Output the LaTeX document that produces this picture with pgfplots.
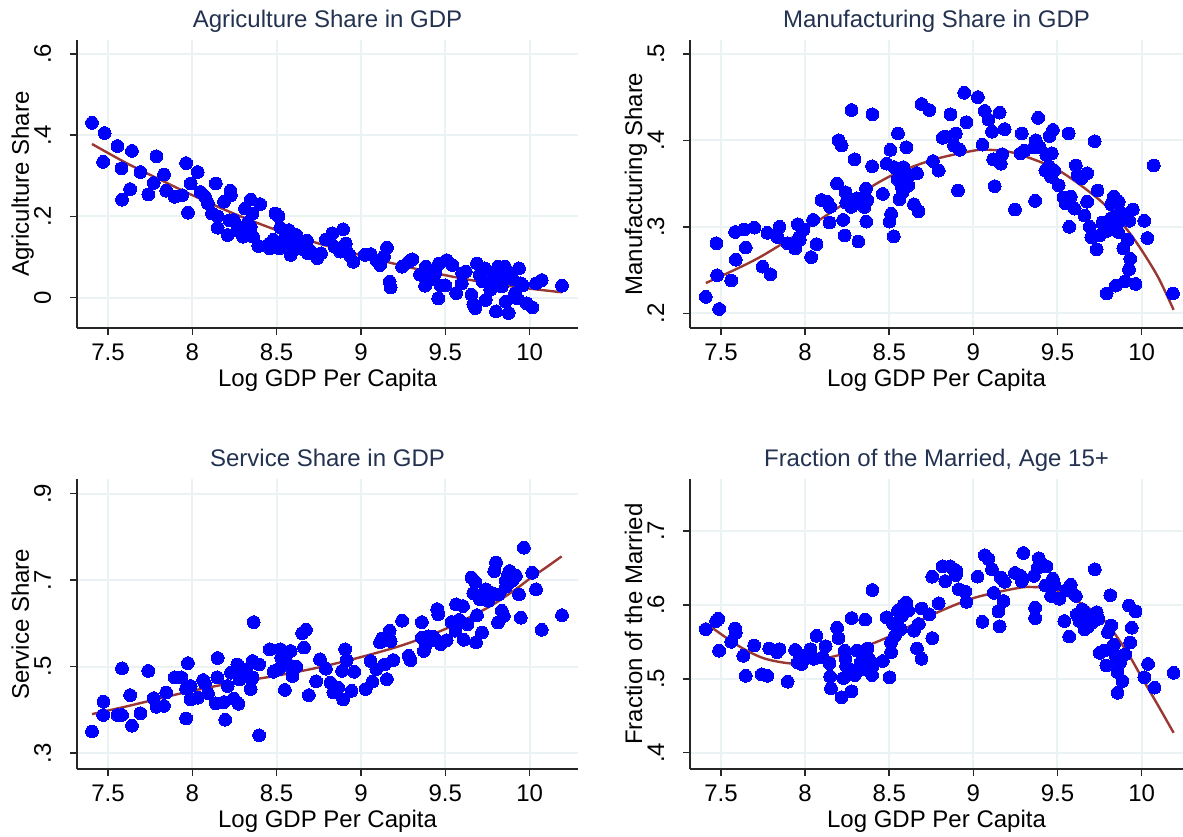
\documentclass[border=0pt]{standalone}
\usepackage{fontspec}
\setmainfont{Liberation Sans}
\usepackage{pgfplots}
\usepackage{pgfplotstable}
\pgfplotsset{compat=1.18}
\definecolor{gridc}{RGB}{234,242,243}
\definecolor{fitc}{RGB}{155,55,50}
\definecolor{titc}{RGB}{35,50,80}
\definecolor{mk}{RGB}{0,0,255}

\pgfplotstableread{
x y
7.405 0.430
7.48 0.405
7.556 0.373
7.642 0.361
7.471 0.334
7.58 0.318
7.631 0.267
7.583 0.241
7.692 0.309
7.787 0.348
7.771 0.282
7.739 0.254
7.832 0.303
7.845 0.263
7.895 0.248
7.963 0.331
7.99 0.281
7.974 0.209
7.94 0.252
8.032 0.309
8.048 0.260
8.075 0.248
8.093 0.232
8.139 0.281
8.116 0.207
8.15 0.200
8.15 0.172
8.188 0.236
8.226 0.263
8.229 0.252
8.21 0.154
8.245 0.191
8.267 0.166
8.312 0.219
8.346 0.241
8.357 0.207
8.402 0.230
8.346 0.174
8.30 0.150
8.391 0.127
8.32 0.158
8.493 0.207
8.511 0.200
8.481 0.142
8.522 0.172
8.572 0.166
8.549 0.125
8.583 0.105
8.617 0.154
8.64 0.125
8.459 0.121
8.515 0.121
8.662 0.133
8.685 0.109
8.741 0.097
8.763 0.109
8.792 0.143
8.831 0.158
8.894 0.168
8.843 0.125
8.877 0.113
8.91 0.133
8.932 0.105
8.955 0.088
9.023 0.105
9.057 0.107
9.091 0.092
9.113 0.080
9.154 0.123
9.136 0.101
9.17 0.039
9.176 0.025
9.244 0.076
9.282 0.088
9.305 0.094
9.35 0.056
9.384 0.076
9.38 0.029
9.407 0.043
9.44 0.060
9.463 0.084
9.508 0.092
9.458 -0.002
9.474 0.029
9.542 0.080
9.564 0.011
9.598 0.035
9.621 0.064
9.655 0.007
9.666 -0.016
9.677 -0.026
9.688 0.084
9.704 0.056
9.733 0.072
9.74 -0.006
9.767 0.019
9.79 0.043
9.801 -0.034
9.813 0.076
9.835 0.027
9.853 0.076
9.858 -0.010
9.876 -0.038
9.892 0.060
9.914 0.011
9.937 0.072
9.926 -0.002
9.948 0.035
9.982 -0.014
10.016 -0.024
10.038 0.035
10.072 0.043
10.192 0.029
8.55 0.145
8.60 0.130
8.65 0.120
8.70 0.115
8.45 0.130
8.68 0.140
9.72 0.040
9.78 0.060
9.84 0.050
9.90 0.045
9.96 0.030
9.60 0.060
9.50 0.030
9.42 0.065
8.27 0.175
8.33 0.185
8.36 0.150
8.22 0.190
8.30 0.160
}\agri

\pgfplotstableread{
x y
7.405 0.378
7.60 0.333
7.75 0.302
8.00 0.252
8.25 0.206
8.50 0.166
8.75 0.133
9.00 0.104
9.25 0.078
9.50 0.055
9.75 0.036
10.00 0.022
10.19 0.013
}\agrifit

\pgfplotstableread{
x y
7.41 0.219
7.489 0.205
7.477 0.244
7.473 0.281
7.561 0.238
7.588 0.262
7.584 0.294
7.638 0.297
7.647 0.276
7.699 0.299
7.747 0.254
7.794 0.245
7.776 0.293
7.848 0.300
7.837 0.288
7.896 0.281
7.941 0.275
7.957 0.303
7.968 0.285
7.991 0.297
7.964 0.288
8.036 0.265
8.048 0.308
8.068 0.280
8.097 0.331
8.131 0.329
8.149 0.323
8.145 0.305
8.19 0.350
8.199 0.400
8.217 0.394
8.226 0.308
8.235 0.290
8.24 0.340
8.244 0.328
8.276 0.435
8.274 0.323
8.294 0.378
8.308 0.333
8.317 0.283
8.353 0.323
8.362 0.344
8.364 0.306
8.369 0.331
8.398 0.370
8.40 0.430
8.462 0.338
8.484 0.373
8.507 0.389
8.511 0.315
8.502 0.306
8.527 0.289
8.529 0.369
8.552 0.408
8.561 0.332
8.575 0.346
8.579 0.360
8.584 0.369
8.602 0.392
8.613 0.348
8.647 0.326
8.674 0.318
8.665 0.362
8.692 0.442
8.738 0.435
8.76 0.376
8.794 0.365
8.817 0.403
8.833 0.404
8.864 0.430
8.885 0.394
8.896 0.408
8.909 0.342
8.919 0.389
8.946 0.455
8.959 0.421
9.027 0.450
9.054 0.395
9.068 0.434
9.09 0.424
9.111 0.410
9.118 0.378
9.127 0.347
9.156 0.432
9.163 0.373
9.172 0.384
9.186 0.413
9.247 0.320
9.281 0.385
9.288 0.408
9.303 0.388
9.367 0.330
9.36 0.392
9.371 0.400
9.385 0.426
9.394 0.392
9.434 0.383
9.428 0.365
9.453 0.405
9.462 0.358
9.466 0.385
9.473 0.412
9.48 0.365
9.507 0.348
9.536 0.334
9.548 0.327
9.57 0.300
9.566 0.408
9.579 0.335
9.602 0.321
9.609 0.371
9.62 0.360
9.643 0.356
9.661 0.313
9.676 0.362
9.676 0.329
9.692 0.300
9.701 0.288
9.721 0.399
9.733 0.274
9.738 0.342
9.751 0.290
9.767 0.305
9.783 0.298
9.792 0.223
9.805 0.298
9.819 0.326
9.835 0.335
9.846 0.232
9.85 0.312
9.86 0.294
9.864 0.329
9.88 0.316
9.891 0.275
9.902 0.237
9.918 0.285
9.927 0.307
9.932 0.263
9.925 0.251
9.948 0.320
9.964 0.234
10.016 0.307
10.034 0.287
10.072 0.371
10.186 0.223
8.55 0.355
8.58 0.340
8.62 0.360
9.45 0.370
9.82 0.310
9.86 0.305
9.79 0.295
}\manu

\pgfplotstableread{
x y
7.41 0.235
7.60 0.252
7.75 0.267
8.00 0.297
8.25 0.329
8.50 0.358
8.75 0.377
9.00 0.388
9.10 0.389
9.25 0.385
9.50 0.366
9.75 0.331
9.90 0.300
10.00 0.273
10.10 0.241
10.19 0.204
}\manufit

\pgfplotstableread{
x y
7.405 0.350
7.473 0.419
7.471 0.388
7.556 0.388
7.583 0.496
7.583 0.388
7.631 0.434
7.642 0.363
7.692 0.392
7.739 0.490
7.771 0.427
7.787 0.407
7.845 0.440
7.832 0.409
7.895 0.475
7.935 0.475
7.963 0.380
7.974 0.508
7.963 0.449
7.99 0.455
7.99 0.424
8.032 0.428
8.064 0.469
8.093 0.438
8.075 0.461
8.139 0.415
8.15 0.520
8.148 0.475
8.188 0.418
8.195 0.377
8.21 0.455
8.229 0.486
8.245 0.426
8.267 0.505
8.274 0.414
8.30 0.478
8.32 0.494
8.346 0.448
8.357 0.513
8.364 0.603
8.357 0.475
8.396 0.341
8.396 0.505
8.459 0.540
8.481 0.488
8.511 0.494
8.522 0.540
8.527 0.521
8.549 0.446
8.56 0.509
8.583 0.536
8.594 0.478
8.617 0.500
8.651 0.577
8.674 0.585
8.662 0.544
8.691 0.434
8.734 0.466
8.757 0.517
8.792 0.495
8.819 0.463
8.836 0.440
8.865 0.451
8.888 0.490
8.894 0.424
8.906 0.540
8.915 0.515
8.944 0.444
8.96 0.488
9.028 0.448
9.057 0.513
9.068 0.465
9.091 0.494
9.113 0.556
9.125 0.565
9.14 0.505
9.154 0.471
9.17 0.583
9.176 0.559
9.192 0.515
9.244 0.606
9.282 0.525
9.294 0.515
9.361 0.603
9.361 0.567
9.373 0.536
9.384 0.549
9.43 0.569
9.452 0.633
9.458 0.621
9.474 0.552
9.508 0.561
9.537 0.603
9.56 0.583
9.564 0.644
9.582 0.608
9.605 0.640
9.61 0.562
9.632 0.598
9.655 0.706
9.677 0.696
9.666 0.670
9.682 0.556
9.688 0.619
9.704 0.656
9.718 0.579
9.74 0.679
9.756 0.652
9.79 0.721
9.801 0.741
9.813 0.602
9.817 0.667
9.835 0.629
9.847 0.617
9.858 0.698
9.869 0.710
9.881 0.721
9.892 0.698
9.919 0.710
9.937 0.667
9.948 0.613
9.966 0.775
10.016 0.717
10.038 0.679
10.072 0.585
10.192 0.619
9.86 0.685
9.90 0.700
9.78 0.670
8.55 0.520
8.58 0.500
9.40 0.570
9.45 0.560
8.35 0.470
8.28 0.470
}\serv

\pgfplotstableread{
x y
7.405 0.390
7.60 0.407
7.75 0.421
8.00 0.444
8.25 0.463
8.50 0.479
8.75 0.498
9.00 0.522
9.25 0.550
9.50 0.587
9.75 0.636
9.90 0.674
10.00 0.703
10.10 0.730
10.19 0.755
}\servfit

\pgfplotstableread{
x y
7.41 0.567
7.471 0.578
7.484 0.581
7.489 0.538
7.561 0.550
7.584 0.568
7.588 0.562
7.633 0.531
7.647 0.504
7.697 0.545
7.742 0.506
7.776 0.504
7.787 0.541
7.833 0.536
7.848 0.540
7.896 0.496
7.941 0.539
7.957 0.522
7.98 0.520
8.002 0.531
8.032 0.540
8.052 0.527
8.068 0.558
8.104 0.529
8.122 0.544
8.145 0.521
8.149 0.503
8.154 0.487
8.19 0.569
8.199 0.555
8.217 0.475
8.228 0.501
8.235 0.538
8.24 0.527
8.244 0.517
8.276 0.483
8.276 0.582
8.296 0.505
8.308 0.538
8.33 0.522
8.348 0.513
8.357 0.580
8.371 0.541
8.38 0.527
8.398 0.505
8.402 0.517
8.40 0.620
8.462 0.524
8.484 0.583
8.502 0.502
8.511 0.549
8.511 0.536
8.523 0.574
8.534 0.558
8.552 0.592
8.568 0.567
8.575 0.585
8.584 0.599
8.602 0.603
8.613 0.592
8.647 0.565
8.665 0.541
8.676 0.574
8.692 0.527
8.692 0.595
8.738 0.587
8.756 0.555
8.756 0.638
8.794 0.602
8.817 0.652
8.833 0.632
8.862 0.652
8.885 0.648
8.896 0.640
8.914 0.621
8.952 0.618
8.959 0.604
9.025 0.638
9.054 0.577
9.068 0.667
9.09 0.662
9.111 0.648
9.122 0.616
9.149 0.591
9.156 0.571
9.163 0.637
9.179 0.605
9.186 0.631
9.247 0.643
9.281 0.639
9.297 0.670
9.288 0.632
9.36 0.639
9.367 0.596
9.367 0.582
9.389 0.663
9.382 0.650
9.434 0.652
9.428 0.626
9.462 0.612
9.473 0.635
9.48 0.627
9.511 0.608
9.541 0.578
9.552 0.620
9.570 0.557
9.579 0.627
9.609 0.612
9.615 0.587
9.631 0.578
9.647 0.594
9.661 0.567
9.676 0.577
9.688 0.585
9.706 0.576
9.722 0.648
9.733 0.590
9.744 0.581
9.751 0.535
9.778 0.538
9.80 0.563
9.814 0.613
9.819 0.572
9.79 0.518
9.835 0.546
9.846 0.531
9.857 0.509
9.857 0.481
9.872 0.522
9.886 0.497
9.902 0.533
9.925 0.599
9.932 0.549
9.941 0.569
9.964 0.591
10.016 0.502
10.038 0.520
10.077 0.488
10.19 0.508
9.62 0.585
9.66 0.590
9.70 0.580
9.68 0.570
8.36 0.530
8.32 0.515
8.90 0.645
9.85 0.525
9.88 0.530
}\marr

\pgfplotstableread{
x y
7.41 0.575
7.60 0.545
7.75 0.528
7.90 0.521
8.00 0.522
8.25 0.535
8.50 0.557
8.75 0.586
9.00 0.609
9.25 0.622
9.35 0.624
9.50 0.619
9.75 0.585
9.90 0.541
10.00 0.502
10.10 0.463
10.19 0.427
}\marrfit

\pgfplotsset{
  panel/.style={
    scale only axis,
    axis x line*=bottom, axis y line*=left,
    axis line style={black!85, line width=0.75pt},
    enlargelimits=false,
    grid=major,
    major grid style={gridc, line width=1pt},
    tick style={black!85, line width=0.75pt},
    major tick length=3.5pt,
    tick align=outside,
    xtick={7.5,8,8.5,9,9.5,10},
    xticklabels={7.5,8,8.5,9,9.5,10},
    xmin=7.316,
    ticklabel style={font=\fontsize{12}{14}\selectfont},
    xticklabel style={anchor=base},
    xticklabel shift=12.5pt,
    yticklabel style={rotate=90, anchor=base},
    yticklabel shift=9.5pt,
    label style={font=\fontsize{12}{14}\selectfont},
    xlabel={Log GDP Per Capita},
    x label style={at={([yshift=-29pt]axis description cs:0.5,0)}, anchor=base},
    y label style={at={([xshift=-24pt]axis description cs:0,0.5)}, anchor=base, rotate=0},
    every axis title/.style={font=\fontsize{12}{14}\selectfont, color=titc, at={(axis description cs:0.5,1)}, anchor=base, yshift=6.3pt},
  },
  pts/.style={only marks, mark=*, mark size=3.2pt, mk, mark options={draw=mk, fill=mk, line width=0pt}},
  fit/.style={fitc, line width=1.2pt, smooth, no marks},
}

\begin{document}
\begin{tikzpicture}
\useasboundingbox (0,0) rectangle (591.5pt,-418pt);

\begin{axis}[panel, at={(38.5pt,-164pt)}, anchor=south west,
  width=250.5pt, height=144pt, xmax=10.287,
  ymin=-0.075, ymax=0.634,
  ytick={0,0.2,0.4,0.6}, yticklabels={0,.2,.4,.6},
  ylabel={Agriculture Share}, title={Agriculture Share in GDP}]
\addplot[pts] table {\agri};
\addplot[fit] table {\agrifit};
\end{axis}

\begin{axis}[panel, at={(345pt,-164pt)}, anchor=south west,
  width=246.5pt, height=144pt, xmax=10.246,
  ymin=0.183, ymax=0.516,
  ytick={0.2,0.3,0.4,0.5}, yticklabels={.2,.3,.4,.5},
  ylabel={Manufacturing Share}, title={Manufacturing Share in GDP}]
\addplot[pts] table {\manu};
\addplot[fit] table {\manufit};
\end{axis}

\begin{axis}[panel, at={(38.5pt,-384.5pt)}, anchor=south west,
  width=250.5pt, height=145pt, xmax=10.287,
  ymin=0.263, ymax=0.934,
  ytick={0.3,0.5,0.7,0.9}, yticklabels={.3,.5,.7,.9},
  ylabel={Service Share}, title={Service Share in GDP}]
\addplot[pts] table {\serv};
\addplot[fit] table {\servfit};
\end{axis}

\begin{axis}[panel, at={(345pt,-384.5pt)}, anchor=south west,
  width=246.5pt, height=145pt, xmax=10.246,
  ymin=0.378, ymax=0.770,
  ytick={0.4,0.5,0.6,0.7}, yticklabels={.4,.5,.6,.7},
  ylabel={Fraction of the Married}, title={Fraction of the Married, Age 15+}]
\addplot[pts] table {\marr};
\addplot[fit] table {\marrfit};
\end{axis}
\end{tikzpicture}
\end{document}
